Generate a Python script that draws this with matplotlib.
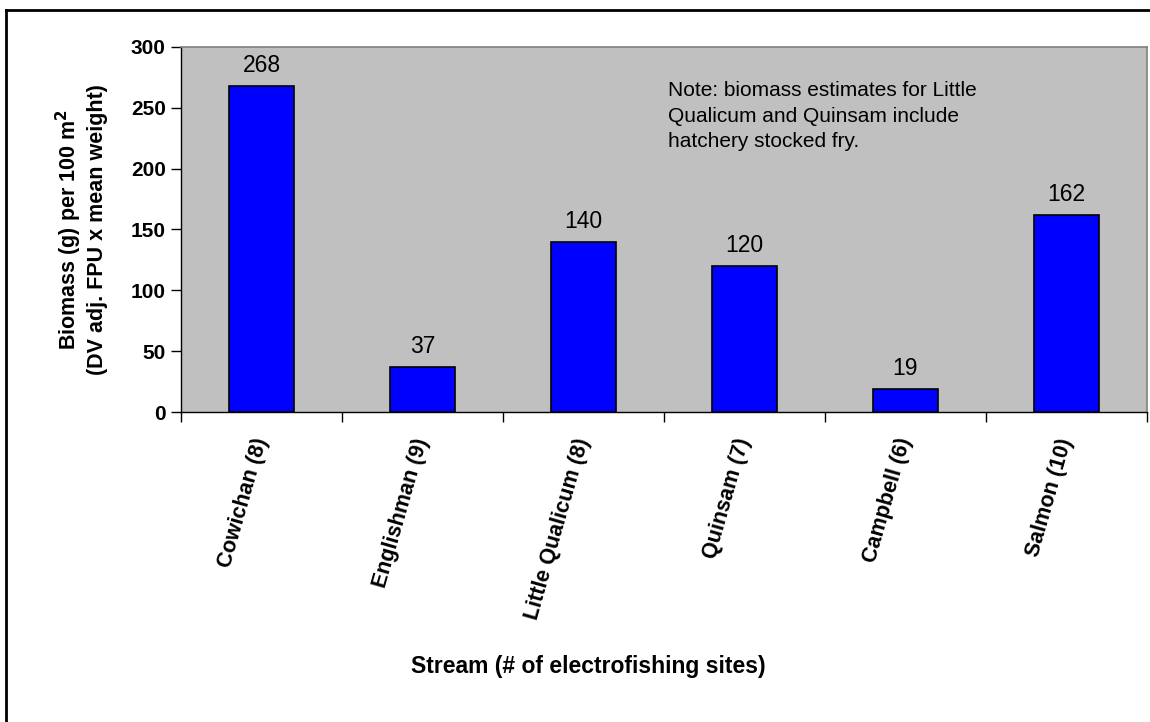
import matplotlib
matplotlib.use("Agg")
import matplotlib.pyplot as plt
from matplotlib.ticker import FixedLocator, NullFormatter

plt.rcParams['font.family'] = ['Liberation Sans', 'DejaVu Sans']

streams = ["Cowichan (8)", "Englishman (9)", "Little Qualicum (8)", "Quinsam (7)", "Campbell (6)", "Salmon (10)"]
biomass = [268, 37, 140, 120, 19, 162]
yticks = [0, 50, 100, 150, 200, 250, 300]

fig = plt.figure(figsize=(11.5, 7.22), dpi=100)
W, H = 1150, 722
ax = fig.add_axes([181/W, 1-412/H, (1147-181)/W, (412-47)/H])
ax.set_facecolor('#c0c0c0')

x = list(range(len(streams)))
ax.bar(x, biomass, width=0.4, color='#0000ff', edgecolor='black', linewidth=1.2, zorder=3)
ax.set_xlim(-0.5, len(streams)-0.5)
ax.set_ylim(0, 300)

for xi, v in zip(x, biomass):
    ax.annotate(str(v), (xi, v), xytext=(0, 6.5), textcoords='offset points',
                ha='center', va='bottom', fontsize=16.5)

ax.set_yticks(yticks)
ax.set_yticklabels([str(t) for t in yticks], fontsize=15, fontweight='bold')
ax.tick_params(axis='y', direction='out', length=7, width=1, pad=4)

# x ticks at category boundaries
ax.xaxis.set_major_locator(FixedLocator([i - 0.5 for i in range(len(streams)+1)]))
ax.xaxis.set_major_formatter(NullFormatter())
ax.tick_params(axis='x', direction='out', length=7, width=1)
for xi, s in zip(x, streams):
    ax.annotate(s, (xi, 0), xytext=(0, -19), textcoords='offset points',
                rotation=74, rotation_mode='anchor', ha='right', va='center',
                fontsize=15.5, fontweight='bold', annotation_clip=False)

for side in ['top', 'right']:
    ax.spines[side].set_color('#808080')
    ax.spines[side].set_linewidth(1.2)
for side in ['left', 'bottom']:
    ax.spines[side].set_color('black')
    ax.spines[side].set_linewidth(1)

ax.text(668/W, 1-116/H, "Note: biomass estimates for Little\nQualicum and Quinsam include\nhatchery stocked fry.",
        transform=fig.transFigure, fontsize=15, va='center', ha='left', linespacing=1.45)

fig.text(81/W, 1-230/H, "Biomass (g) per 100 m$^\\mathbf{2}$\n(DV adj. FPU x mean weight)",
         rotation=90, ha='center', va='center', fontsize=15.5, fontweight='bold',
         multialignment='center', linespacing=1.2)
fig.text(588/W, 1-667/H, "Stream (# of electrofishing sites)", ha='center', va='center',
         fontsize=16.5, fontweight='bold')

# outer frame (left and top borders)
fig.add_artist(plt.Line2D([6/W, 6/W], [0, 1-10/H], transform=fig.transFigure, color='black', linewidth=2))
fig.add_artist(plt.Line2D([6/W, 1], [1-10/H, 1-10/H], transform=fig.transFigure, color='black', linewidth=2))

fig.savefig('out.png', dpi=100)
